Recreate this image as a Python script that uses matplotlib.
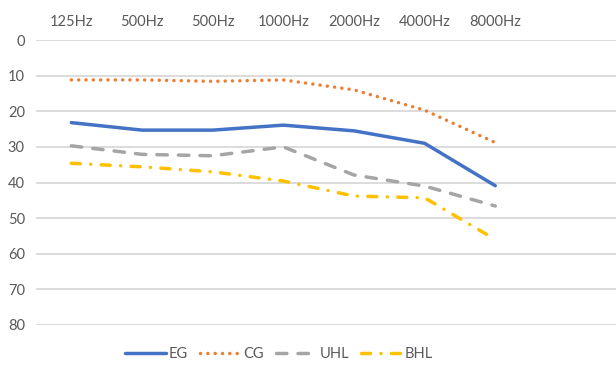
import matplotlib
matplotlib.use("Agg")
import matplotlib.pyplot as plt
import numpy as np

freqs = ["125Hz", "500Hz", "500Hz", "1000Hz", "2000Hz", "4000Hz", "8000Hz"]
eg = [23.2, 25.3, 25.3, 23.9, 25.5, 29.0, 40.9]
cg = [11.2, 11.2, 11.6, 11.2, 14.0, 19.7, 28.8]
uhl = [29.7, 32.1, 32.5, 30.0, 37.9, 41.0, 46.6]
bhl = [34.6, 35.6, 37.0, 39.6, 43.8, 44.3, 56.0]
y_ticks = [0, 10, 20, 30, 40, 50, 60, 70, 80]

plt.rcParams['font.family'] = ['Lato', 'DejaVu Sans']

fig = plt.figure(figsize=(6.16, 3.67), dpi=100)
ax = fig.add_axes([36 / 616, 1 - 325 / 367, 1 - 36 / 616, (325 - 40) / 367])

x = np.arange(len(freqs))
lw = 2.5
ax.plot(x, eg, color="#4472C4", lw=lw, solid_capstyle="round", label="EG", zorder=3)
ax.plot(x, cg, color="#ED7D31", lw=lw, linestyle=(0, (0.01, 2.1)), dash_capstyle="round", label="CG", zorder=3)
ax.plot(x, uhl, color="#A5A5A5", lw=lw, linestyle=(0, (3.0, 3.2)), dash_capstyle="round", label="UHL", zorder=3)
ax.plot(x, bhl, color="#FFC000", lw=lw, linestyle=(0, (2.6, 3.0, 0.01, 3.0)), dash_capstyle="round", label="BHL", zorder=3)

ax.set_ylim(80, 0)
ax.set_xlim(-0.5, (616 - 71) / 70.7)
ax.set_yticks(y_ticks)
ax.set_xticks(x)
ax.set_xticklabels(freqs)
ax.xaxis.tick_top()
ax.tick_params(axis="both", length=0, labelsize=10.5, colors="#595959")
ax.tick_params(axis="x", pad=8)
ax.tick_params(axis="y", pad=8)
ax.grid(axis="y", color="#D9D9D9", lw=1.3)
for s in ax.spines.values():
    s.set_visible(False)

fig.legend(loc="center", bbox_to_anchor=(279 / 616, 1 - 354 / 367), ncol=4, frameon=False,
           fontsize=10.5, handlelength=2.8, columnspacing=0.8, handletextpad=0.2,
           labelcolor="#595959")

fig.savefig("out.png", dpi=100)
